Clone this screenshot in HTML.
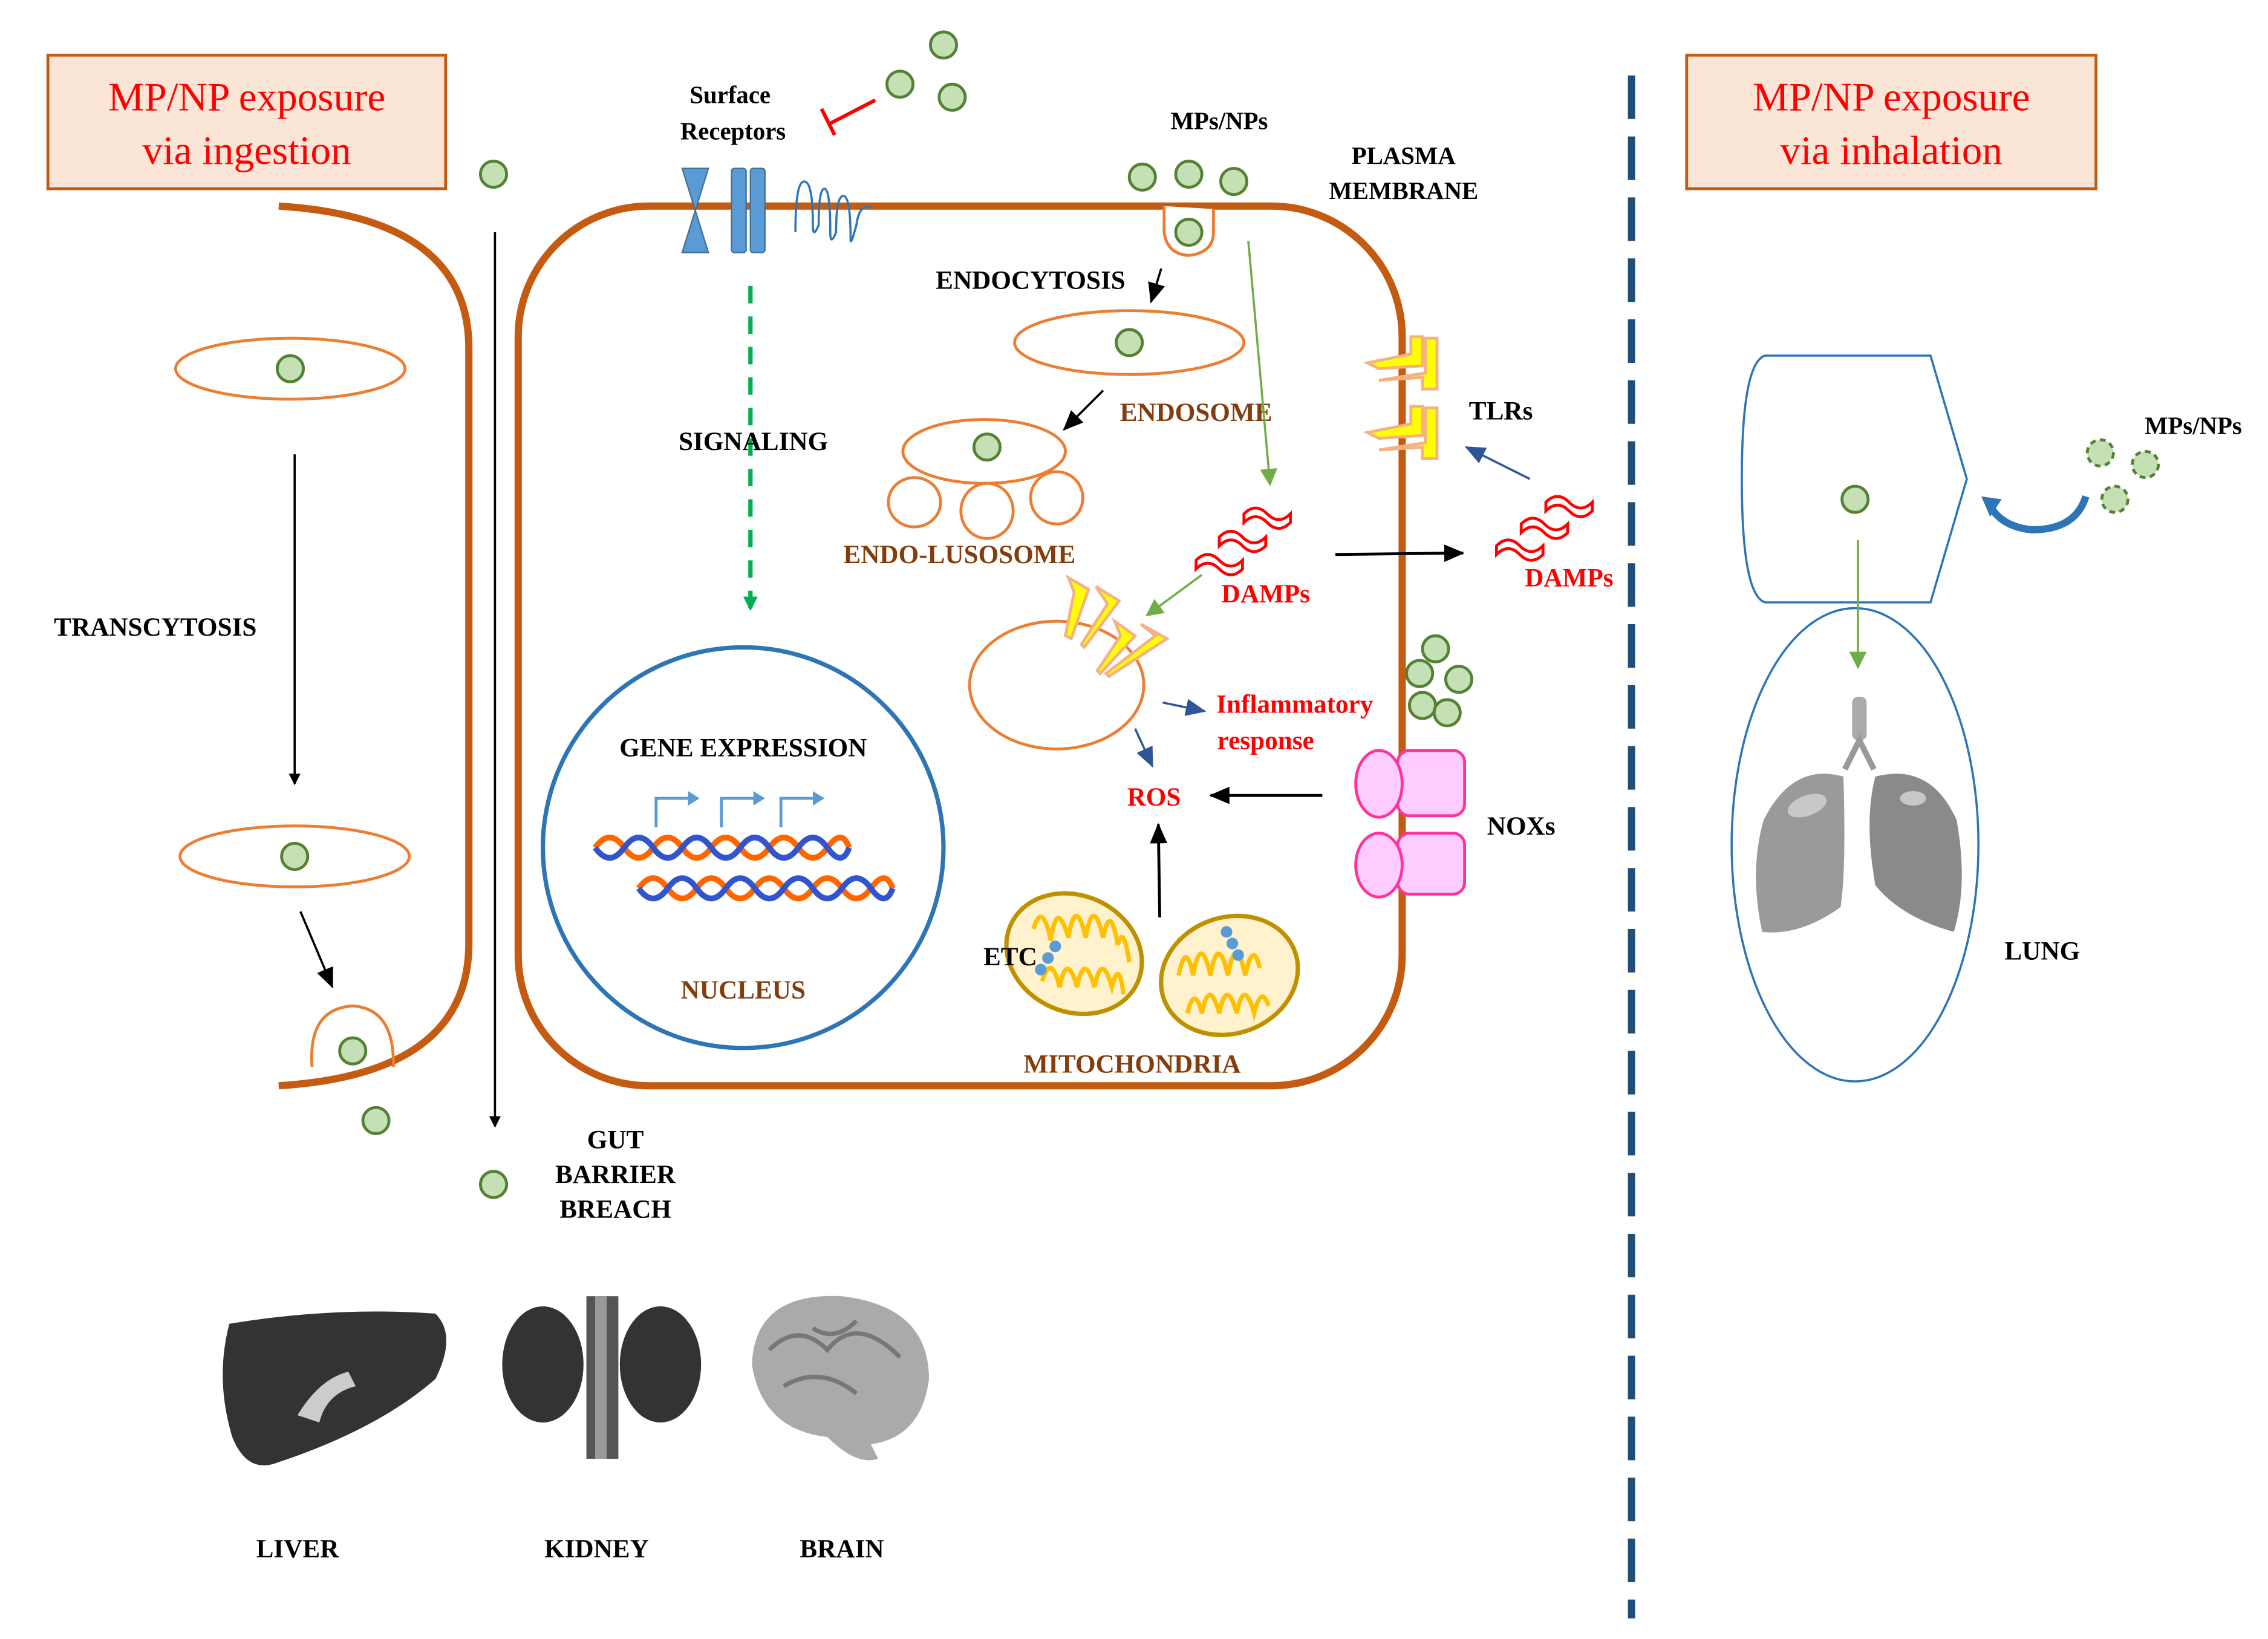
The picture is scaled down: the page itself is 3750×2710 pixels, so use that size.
<!DOCTYPE html>
<html><head><meta charset="utf-8"><style>html,body{margin:0;padding:0;background:#fff}svg{display:block}</style></head>
<body>
<svg width="3750" height="2710" viewBox="0 0 1562.5 1129.17" xmlns="http://www.w3.org/2000/svg" font-family="Liberation Serif, serif" font-weight="bold">
<defs>
<marker id="ab" markerWidth="8" markerHeight="8" refX="7" refY="4" orient="auto" markerUnits="userSpaceOnUse"><path d="M0,0 L8,4 L0,8z" fill="#000"/></marker>
<marker id="abig" markerWidth="14" markerHeight="12" refX="13" refY="6" orient="auto" markerUnits="userSpaceOnUse"><path d="M0,0 L14,6 L0,12z" fill="#000"/></marker>
<marker id="ag" markerWidth="12" markerHeight="12" refX="11" refY="6" orient="auto" markerUnits="userSpaceOnUse"><path d="M0,0 L12,6 L0,12z" fill="#70ad47"/></marker>
<marker id="agd" markerWidth="10" markerHeight="10" refX="9" refY="5" orient="auto" markerUnits="userSpaceOnUse"><path d="M0,0 L10,5 L0,10z" fill="#00b050"/></marker>
<marker id="abl" markerWidth="14" markerHeight="12" refX="13" refY="6" orient="auto" markerUnits="userSpaceOnUse"><path d="M0,0 L14,6 L0,12z" fill="#2f5597"/></marker>
<g id="dot"><circle r="9" fill="#c5e0b4" stroke="#548235" stroke-width="2"/></g>
<g id="dmp"><path d="M0,0 q8,-8 16,0 q8,8 16,0 l0,-6 q-8,8 -16,0 q-8,-8 -16,0z" fill="none" stroke="#f00" stroke-width="2"/></g>
</defs>

<rect x="33" y="38" width="274" height="92" fill="#fbe5d6" stroke="#c55a11" stroke-width="2"/>
<text x="170" y="76" text-anchor="middle" font-size="28" font-weight="normal" fill="#f00">MP/NP exposure</text>
<text x="170" y="113" text-anchor="middle" font-size="28" font-weight="normal" fill="#f00">via ingestion</text>
<rect x="1162" y="38" width="282" height="92" fill="#fbe5d6" stroke="#c55a11" stroke-width="2"/>
<text x="1303" y="76" text-anchor="middle" font-size="28" font-weight="normal" fill="#f00">MP/NP exposure</text>
<text x="1303" y="113" text-anchor="middle" font-size="28" font-weight="normal" fill="#f00">via inhalation</text>

<line x1="1124" y1="52" x2="1124" y2="1115" stroke="#1f4e79" stroke-width="5" stroke-dasharray="30,12"/>

<path d="M192,142 Q323,150 323,240 L323,650 Q323,740 192,748" fill="none" stroke="#c55a11" stroke-width="5"/>
<ellipse cx="200" cy="254" rx="79" ry="21" fill="none" stroke="#ed7d31" stroke-width="2"/>
<use href="#dot" x="200" y="254"/>
<line x1="203" y1="313" x2="203" y2="540" stroke="#000" stroke-width="1.5" marker-end="url(#ab)"/>
<ellipse cx="203" cy="590" rx="79" ry="21" fill="none" stroke="#ed7d31" stroke-width="2"/>
<use href="#dot" x="203" y="590"/>
<line x1="207" y1="628" x2="229" y2="680" stroke="#000" stroke-width="1.5" marker-end="url(#abig)"/>
<path d="M215,735 Q212,695 243,693 Q272,695 271,735" fill="none" stroke="#ed7d31" stroke-width="2"/>
<use href="#dot" x="243" y="724"/>
<use href="#dot" x="259" y="772"/>
<text x="107" y="438" text-anchor="middle" font-size="18">TRANSCYTOSIS</text>

<use href="#dot" x="340" y="120"/>
<line x1="341" y1="160" x2="341" y2="776" stroke="#000" stroke-width="1.5" marker-end="url(#ab)"/>
<use href="#dot" x="340" y="816"/>
<text x="424" y="791" text-anchor="middle" font-size="18">GUT</text>
<text x="424" y="815" text-anchor="middle" font-size="18">BARRIER</text>
<text x="424" y="839" text-anchor="middle" font-size="18">BREACH</text>

<rect x="357" y="142" width="609" height="606" rx="90" fill="none" stroke="#c55a11" stroke-width="5"/>

<path d="M470,116 L488,116 L479,145 L488,174 L470,174 L479,145z" fill="#5b9bd5" stroke="#41719c" stroke-width="1"/>
<rect x="504" y="116" width="10" height="58" rx="2" fill="#5b9bd5" stroke="#41719c"/>
<rect x="517" y="116" width="10" height="58" rx="2" fill="#5b9bd5" stroke="#41719c"/>
<path d="M548,160 q0,-35 6,-35 q6,0 6,30 q0,10 4,0 q0,-25 4,-25 q4,0 4,30 q0,10 4,0 q0,-25 5,-25 q5,0 5,30 q0,5 4,-10 q2,-15 10,-12" fill="none" stroke="#2e75b6" stroke-width="1.5"/>
<text x="503" y="71" text-anchor="middle" font-size="17">Surface</text>
<text x="505" y="96" text-anchor="middle" font-size="17">Receptors</text>
<line x1="603" y1="69" x2="572" y2="85" stroke="#f00" stroke-width="2.5"/>
<line x1="566" y1="75" x2="575" y2="93" stroke="#f00" stroke-width="2.5"/>
<use href="#dot" x="650" y="31"/><use href="#dot" x="620" y="58"/><use href="#dot" x="656" y="67"/>

<line x1="517" y1="197" x2="517" y2="420" stroke="#00b050" stroke-width="3" stroke-dasharray="12,9" marker-end="url(#agd)"/>
<text x="519" y="310" text-anchor="middle" font-size="18">SIGNALING</text>

<circle cx="512" cy="584" r="138" fill="none" stroke="#2e75b6" stroke-width="3"/>
<text x="512" y="521" text-anchor="middle" font-size="18">GENE EXPRESSION</text>
<g stroke="#5b9bd5" stroke-width="2" fill="none">
<path d="M452,570 v-20 h22"/><path d="M497,570 v-20 h22"/><path d="M538,570 v-20 h22"/>
</g>
<g fill="#5b9bd5"><path d="M474,545 l8,5 l-8,5z"/><path d="M519,545 l8,5 l-8,5z"/><path d="M560,545 l8,5 l-8,5z"/></g>
<path d="M410,584 q10,-14 20,0 t20,0 t20,0 t20,0 t20,0 t20,0 t20,0 t20,0 t15,0" fill="none" stroke="#ff6600" stroke-width="4"/>
<path d="M410,584 q10,14 20,0 t20,0 t20,0 t20,0 t20,0 t20,0 t20,0 t20,0 t15,0" fill="none" stroke="#3355cc" stroke-width="4"/>
<path d="M440,612 q10,-14 20,0 t20,0 t20,0 t20,0 t20,0 t20,0 t20,0 t20,0 t15,0" fill="none" stroke="#ff6600" stroke-width="4"/>
<path d="M440,612 q10,14 20,0 t20,0 t20,0 t20,0 t20,0 t20,0 t20,0 t20,0 t15,0" fill="none" stroke="#3355cc" stroke-width="4"/>
<text x="512" y="688" text-anchor="middle" font-size="18" fill="#843c0c">NUCLEUS</text>

<use href="#dot" x="787" y="122"/><use href="#dot" x="819" y="120"/><use href="#dot" x="850" y="125"/>
<path d="M802,142 L802,160 Q804,175 819,176 Q836,174 836,160 L836,144" fill="#fff" stroke="#ed7d31" stroke-width="2"/>
<use href="#dot" x="819" y="160"/>
<text x="840" y="89" text-anchor="middle" font-size="17">MPs/NPs</text>
<text x="967" y="113" text-anchor="middle" font-size="17">PLASMA</text>
<text x="967" y="137" text-anchor="middle" font-size="17">MEMBRANE</text>
<text x="710" y="199" text-anchor="middle" font-size="18">ENDOCYTOSIS</text>
<line x1="800" y1="185" x2="793" y2="208" stroke="#000" stroke-width="1.5" marker-end="url(#abig)"/>
<ellipse cx="778" cy="236" rx="79" ry="22" fill="none" stroke="#ed7d31" stroke-width="2"/>
<use href="#dot" x="778" y="236"/>
<text x="824" y="290" text-anchor="middle" font-size="18" fill="#843c0c">ENDOSOME</text>
<line x1="760" y1="269" x2="733" y2="296" stroke="#000" stroke-width="1.5" marker-end="url(#abig)"/>
<ellipse cx="630" cy="346" rx="18" ry="17" fill="none" stroke="#ed7d31" stroke-width="2"/>
<ellipse cx="680" cy="352" rx="18" ry="19" fill="none" stroke="#ed7d31" stroke-width="2"/>
<ellipse cx="728" cy="343" rx="18" ry="18" fill="#fff" stroke="#ed7d31" stroke-width="2"/>
<ellipse cx="678" cy="311" rx="56" ry="22" fill="#fff" stroke="#ed7d31" stroke-width="2"/>
<use href="#dot" x="680" y="308"/>
<text x="661" y="388" text-anchor="middle" font-size="18" fill="#843c0c">ENDO-LUSOSOME</text>

<line x1="860" y1="166" x2="875" y2="334" stroke="#70ad47" stroke-width="1.5" marker-end="url(#ag)"/>
<use href="#dmp" x="857" y="360"/><use href="#dmp" x="840" y="376"/><use href="#dmp" x="824" y="392"/>
<text x="872" y="415" text-anchor="middle" font-size="18" fill="#f00">DAMPs</text>
<line x1="828" y1="396" x2="790" y2="424" stroke="#70ad47" stroke-width="1.5" marker-end="url(#ag)"/>

<ellipse cx="728" cy="472" rx="60" ry="44" fill="#fff" stroke="#ed7d31" stroke-width="2"/>
<g fill="#ffff00" stroke="#f4b183" stroke-width="2">
<path d="M736,398 l14,8 l-12,34 l-4,-2 l6,-30 z"/><path d="M755,404 l16,10 l-24,32 l-2,-2 l18,-28z"/>
<path d="M768,428 l14,10 l-24,26 l-2,-2 l16,-24z"/><path d="M786,430 l18,10 l-40,26 l-2,-2 l34,-26 z"/>
</g>
<line x1="801" y1="484" x2="830" y2="490" stroke="#2f5597" stroke-width="1.5" marker-end="url(#abl)"/>
<text x="892" y="491" text-anchor="middle" font-size="18" fill="#f00">Inflammatory</text>
<text x="872" y="516" text-anchor="middle" font-size="18" fill="#f00">response</text>
<line x1="782" y1="502" x2="794" y2="528" stroke="#2f5597" stroke-width="1.5" marker-end="url(#abl)"/>
<text x="795" y="555" text-anchor="middle" font-size="18" fill="#f00">ROS</text>
<line x1="911" y1="548" x2="834" y2="548" stroke="#000" stroke-width="2" marker-end="url(#abig)"/>
<line x1="799" y1="632" x2="798" y2="568" stroke="#000" stroke-width="2" marker-end="url(#abig)"/>

<g stroke="#bf9000" stroke-width="3" fill="#fff2cc">
<ellipse cx="740" cy="657" rx="48" ry="40" transform="rotate(25 740 657)"/>
<ellipse cx="847" cy="672" rx="48" ry="40" transform="rotate(-20 847 672)"/>
</g>
<g fill="none" stroke="#ffc000" stroke-width="3">
<path d="M712,640 q6,-20 12,8 q4,-30 12,-2 q5,-30 12,0 q5,-30 12,0 q5,-25 10,5 q4,-15 8,12"/>
<path d="M718,676 q6,-20 12,4 q5,-25 12,0 q5,-25 12,0 q5,-25 12,0 q5,-20 8,5"/>
<path d="M812,672 q5,-25 10,0 q5,-30 12,0 q5,-30 12,0 q5,-30 12,0 q5,-25 10,-5"/>
<path d="M818,698 q5,-20 10,0 q5,-25 12,0 q5,-25 12,0 q5,-25 12,0 q5,-20 10,-5"/>
</g>
<g fill="#5b9bd5"><circle cx="717" cy="668" r="4"/><circle cx="722" cy="660" r="4"/><circle cx="727" cy="652" r="4"/><circle cx="845" cy="642" r="4"/><circle cx="849" cy="650" r="4"/><circle cx="853" cy="658" r="4"/></g>
<text x="696" y="665" text-anchor="middle" font-size="18">ETC</text>
<text x="780" y="739" text-anchor="middle" font-size="18" fill="#843c0c">MITOCHONDRIA</text>

<g fill="#ffff00" stroke="#f4b183" stroke-width="2">
<path d="M942,250 l30,-6 l0,-12 l8,0 l0,20 l-30,2z"/><path d="M950,262 l30,-2 l0,8 l10,0 l0,-35 l-8,0 l0,24z"/>
<path d="M942,298 l30,-6 l0,-12 l8,0 l0,20 l-30,2z"/><path d="M950,310 l30,-2 l0,8 l10,0 l0,-35 l-8,0 l0,24z"/>
</g>
<text x="1034" y="289" text-anchor="middle" font-size="18">TLRs</text>
<line x1="1054" y1="330" x2="1010" y2="308" stroke="#2f5597" stroke-width="1.5" marker-end="url(#abl)"/>
<line x1="920" y1="382" x2="1008" y2="381" stroke="#000" stroke-width="2" marker-end="url(#abig)"/>
<use href="#dmp" x="1065" y="352"/><use href="#dmp" x="1048" y="367"/><use href="#dmp" x="1031" y="382"/>
<text x="1081" y="404" text-anchor="middle" font-size="18" fill="#f00">DAMPs</text>

<use href="#dot" x="989" y="447"/><use href="#dot" x="978" y="464"/><use href="#dot" x="1005" y="468"/><use href="#dot" x="980" y="486"/><use href="#dot" x="997" y="491"/>
<g fill="#ffccff" stroke="#ff3399" stroke-width="2">
<rect x="963" y="517" width="46" height="45" rx="8"/><ellipse cx="950" cy="540" rx="16" ry="23"/>
<rect x="963" y="574" width="46" height="42" rx="8"/><ellipse cx="950" cy="596" rx="16" ry="22"/>
</g>
<text x="1048" y="575" text-anchor="middle" font-size="18">NOXs</text>

<path d="M158,912 Q230,900 300,905 Q315,920 300,950 Q260,985 190,1008 Q170,1015 160,990 Q148,950 158,912z" fill="#333"/>
<path d="M205,975 q15,-25 35,-30 l5,10 q-20,5 -25,25z" fill="#ccc"/>
<ellipse cx="374" cy="940" rx="28" ry="40" fill="#333"/><ellipse cx="455" cy="940" rx="28" ry="40" fill="#333"/>
<rect x="404" y="893" width="22" height="112" fill="#555"/><rect x="410" y="893" width="8" height="112" fill="#999"/>
<path d="M518,940 Q520,890 580,893 Q640,900 640,950 Q635,990 600,995 L605,1005 Q590,1010 570,990 Q525,985 518,940z" fill="#aaa"/>
<path d="M530,930 q20,-20 40,0 q20,-25 50,5 M540,955 q25,-15 50,5 M560,915 q15,10 30,-5" fill="none" stroke="#777" stroke-width="3"/>
<text x="205" y="1073" text-anchor="middle" font-size="18">LIVER</text>
<text x="411" y="1073" text-anchor="middle" font-size="18">KIDNEY</text>
<text x="580" y="1073" text-anchor="middle" font-size="18">BRAIN</text>

<path d="M1216,245 L1330,245 L1355,330 L1330,415 L1216,415 Q1200,410 1200,330 Q1200,250 1216,245z" fill="none" stroke="#2e75b6" stroke-width="1.5"/>
<ellipse cx="1278" cy="582" rx="85" ry="163" fill="none" stroke="#2e75b6" stroke-width="1.5"/>
<use href="#dot" x="1278" y="344"/>
<line x1="1280" y1="372" x2="1280" y2="460" stroke="#70ad47" stroke-width="1.5" marker-end="url(#ag)"/>
<rect x="1276" y="480" width="10" height="30" rx="4" fill="#aaa"/>
<path d="M1271,530 l10,-20 l10,20" fill="none" stroke="#999" stroke-width="4"/>
<path d="M1270,535 Q1272,600 1268,625 Q1240,645 1214,642 Q1205,600 1215,565 Q1235,525 1270,535z" fill="#9a9a9a"/>
<path d="M1292,535 Q1330,525 1348,565 Q1356,610 1346,642 Q1310,632 1292,610 Q1284,565 1292,535z" fill="#8a8a8a"/>
<ellipse cx="1245" cy="555" rx="14" ry="7" fill="#c8c8c8" transform="rotate(-20 1245 555)"/>
<ellipse cx="1318" cy="550" rx="9" ry="5" fill="#c8c8c8"/>
<text x="1407" y="661" text-anchor="middle" font-size="18">LUNG</text>
<text x="1511" y="299" text-anchor="middle" font-size="17">MPs/NPs</text>
<g fill="#c5e0b4" stroke="#548235" stroke-width="2" stroke-dasharray="4,3">
<circle cx="1447" cy="312" r="9"/><circle cx="1478" cy="320" r="9"/><circle cx="1457" cy="344" r="9"/>
</g>
<path d="M1437,342 Q1430,365 1400,365 Q1380,363 1372,350" fill="none" stroke="#2e75b6" stroke-width="5"/>
<path d="M1365,342 l14,2 l-8,12z" fill="#2e75b6"/>
</svg>
</body></html>
